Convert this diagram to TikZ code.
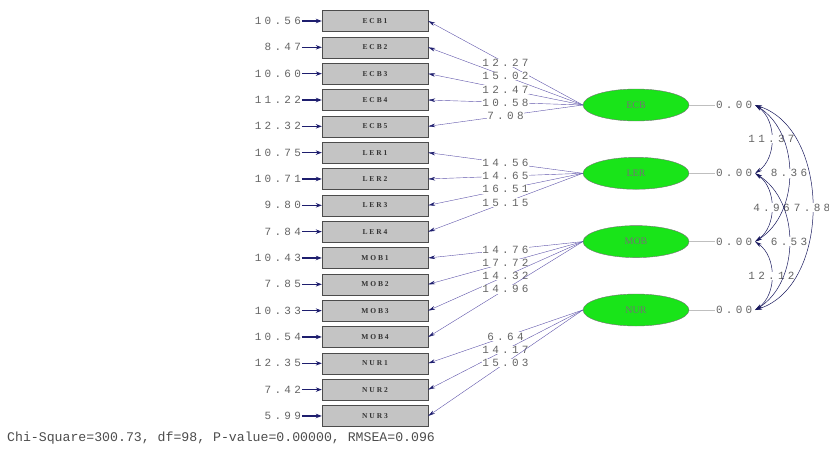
\documentclass[tikz,border=0pt]{standalone}
\usepackage{fontspec}
\setmainfont{Liberation Serif}
\newfontfamily\numfont[LetterSpace=30]{Liberation Mono}
\newfontfamily\boxfont[LetterSpace=25]{Liberation Serif}
\newfontfamily\statfont{Liberation Mono}
\usetikzlibrary{arrows.meta,positioning,shapes.geometric}

\definecolor{linec}{RGB}{95,85,170}
\definecolor{tipc}{RGB}{30,30,110}
\definecolor{latc}{RGB}{25,228,25}
\definecolor{boxc}{RGB}{196,196,196}
\definecolor{txtc}{RGB}{100,100,100}

\begin{document}
\begin{tikzpicture}[
  x=1pt,y=-1pt,
  obs/.style={draw=black!70,fill=boxc,minimum width=106pt,minimum height=21pt,
    inner sep=0pt,text=black!80,font=\boxfont\fontsize{7.5}{8}\selectfont\bfseries},
  lat/.style={ellipse,draw=black!55,fill=latc,minimum width=106pt,
    minimum height=32pt,inner sep=0pt,text=black!55,font=\fontsize{10}{11}\selectfont},
  tval/.style={fill=white,inner sep=0.6pt,text=txtc,
    font=\numfont\fontsize{11}{12}\selectfont},
  errlab/.style={tval,fill=none},
  load/.style={-{Stealth[length=7pt,width=3.6pt,color=tipc]},draw=linec,line width=0.4pt},
  errarr/.style={-{Stealth[length=6pt,width=4.5pt]},draw=tipc,line width=1.3pt},
  varline/.style={draw=black!25,line width=0.4pt},
  cov/.style={{Stealth[length=7pt,width=3.6pt]}-{Stealth[length=7pt,width=3.6pt]},
    draw=tipc!85!black,line width=0.5pt}]

  \useasboundingbox (0,0) rectangle (829,452);

  % observed variables and their error variances
  \foreach \lab/\v [count=\i] in {ECB1/10.56,ECB2/8.47,ECB3/10.60,ECB4/11.22,
      ECB5/12.32,LER1/10.75,LER2/10.71,LER3/9.80,LER4/7.84,MOB1/10.43,
      MOB2/7.85,MOB3/10.33,MOB4/10.54,NUR1/12.35,NUR2/7.42,NUR3/5.99}{
    \node[obs] (o\i) at (375,{21+(\i-1)*26.33}) {\lab};
    \node[errlab,left=20pt of o\i] (e\i) {\v};
    \draw[errarr] (e\i) -- (o\i);
  }

  % latent variables
  \node[lat] (ECB) at (636,105) {ECB};
  \node[lat] (LER) at (636,173.3) {LER};
  \node[lat] (MOB) at (636,241.6) {MOB};
  \node[lat] (NUR) at (636,310) {NUR};

  % loadings
  \foreach \j/\t in {1/12.27,2/15.02,3/12.47,4/10.58,5/7.08}
    \draw[load] (ECB.west) -- node[tval] {\t} (o\j.east);
  \foreach \j/\t in {6/14.56,7/14.65,8/16.51,9/15.15}
    \draw[load] (LER.west) -- node[tval] {\t} (o\j.east);
  \foreach \j/\t in {10/14.76,11/17.72,12/14.32,13/14.96}
    \draw[load] (MOB.west) -- node[tval] {\t} (o\j.east);
  \foreach \j/\t in {14/6.64,15/14.17,16/15.03}
    \draw[load] (NUR.west) -- node[tval] {\t} (o\j.east);

  % variances of the latents
  \foreach \f in {ECB,LER,MOB,NUR}{
    \node[errlab,right=26pt of \f] (v\f) {0.00};
    \draw[varline] (\f.east) -- (v\f.west);
    \coordinate (c\f) at ([xshift=2pt]v\f.east);
  }

  % covariances
  \draw[cov] (cECB) to[bend left=55] node[tval] {11.37} (cLER);
  \draw[cov] (cLER) to[bend left=55] node[tval] {4.96} (cMOB);
  \draw[cov] (cMOB) to[bend left=55] node[tval] {12.12} (cNUR);
  \draw[cov] (cECB) to[bend left=58] node[tval] {8.36} (cMOB);
  \draw[cov] (cLER) to[bend left=58] node[tval] {6.53} (cNUR);
  \draw[cov] (cECB) to[bend left=72] node[tval] {7.88} (cNUR);

  % fit statistics
  \node[anchor=west,inner sep=0pt,text=black!70,font=\statfont\fontsize{13.2}{14}\selectfont]
    (fit) at (7,438) {Chi-Square=300.73, df=98, P-value=0.00000, RMSEA=0.096};
\end{tikzpicture}
\end{document}
